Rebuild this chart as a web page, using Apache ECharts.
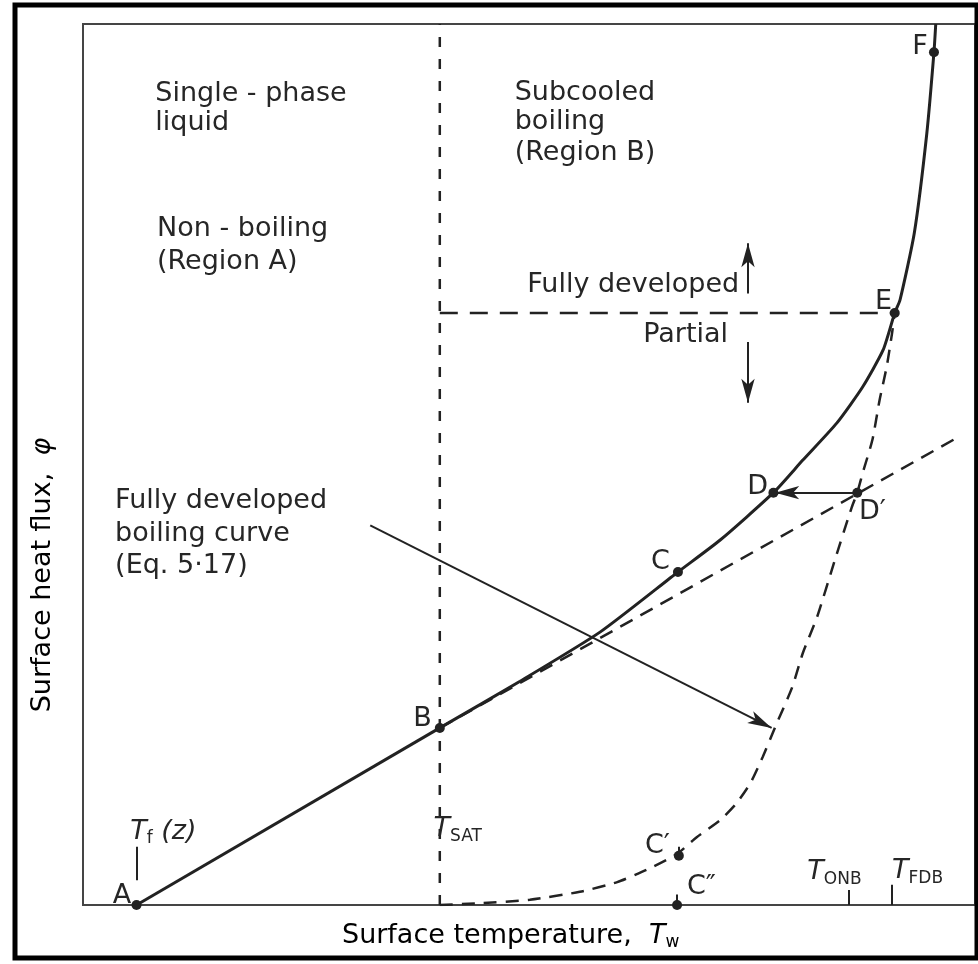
<!DOCTYPE html>
<html><head><meta charset="utf-8">
<script src="https://cdn.jsdelivr.net/npm/echarts@6/dist/echarts.min.js"></script>
<style>html,body{margin:0;padding:0;background:#fff}#c{width:978px;height:964px}</style>
</head><body><div id="c"></div>
<script>
// ---------- data (axis units: 0..100 on both axes) ----------
const singlePhaseLine = [[6,0],[40,20.1]];                       // A -> B
const subcooledCurve = [[40,20.1],[49,25.4],[58,31.0],[66.7,37.8],[71.4,41.4],[77.4,46.8],
  [80.7,50.5],[84.5,54.7],[87.4,58.8],[89.7,63.0],[91.0,67.2],[91.6,68.7],[93.2,76.3],
  [94.6,87.6],[95.4,96.8],[95.6,100]];                            // B -> C -> D -> E -> F
const singlePhaseExtension = [[40,20.1],[98.1,53.1]];             // dashed straight line
const fullyDevelopedCurve = [[40,0],[44.5,0.2],[50.1,0.6],[55.7,1.5],[59.9,2.6],[63.2,4.0],
  [66.6,5.8],[68.8,7.7],[71.4,9.6],[73.3,11.6],[74.8,13.8],[76.2,16.8],[77.6,20.2],[79.5,24.7],
  [80.7,28.6],[82.3,32.7],[84.3,39.2],[86.2,45.2],[86.8,46.8],[87.4,49.0],[88.5,52.8],
  [89.3,57.3],[90.1,61.1],[90.7,64.9],[91.0,67.2]];               // Eq. 5-17
const tSatLine = [[40,0],[40,100]];
const fdbBoundary = [[40,67.2],[91.0,67.2]];
const pointNames = ['A','B','C','D','E','F','C″','C′','D′'];
const pointValues = [[6,0],[40,20.1],[66.7,37.8],[77.4,46.8],[91.0,67.2],[95.4,96.8],[66.6,0],[66.8,5.6],[86.8,46.8]];
const tickMarks = [ [[6,2.8],[6,6.6]], [[85.9,0],[85.9,1.7]], [[90.7,0],[90.7,2.3]], [[66.6,0],[66.6,1.2]], [[66.8,5.6],[66.8,6.6]] ];
const arrowLines = [ [[32.2,43.1],[77.2,20.1]], [[86.8,46.8],[77.6,46.8]], [[74.55,69.4],[74.55,75.1]], [[74.55,63.9],[74.55,57.0]] ];

// ---------- styling ----------
const FONT = 'DejaVu Sans';
const TXT = '#262626';
const INK = '#222';
const FS = 27;
const nb = {textBorderWidth: 0, textBorderColor: 'transparent', textShadowBlur: 0};
const rich = {
  n:  Object.assign({fontFamily: FONT, fontSize: FS, color: TXT, lineHeight: 29, verticalAlign: 'top'}, nb),
  it: Object.assign({fontFamily: FONT, fontSize: FS, color: TXT, fontStyle: 'italic', lineHeight: 29, verticalAlign: 'top'}, nb),
  sub:Object.assign({fontFamily: FONT, fontSize: 17, color: TXT, lineHeight: 18, padding: [12,0,0,0], verticalAlign: 'top'}, nb),
  tn: Object.assign({fontFamily: FONT, fontSize: 27, color: TXT, lineHeight: 29, verticalAlign: 'top'}, nb),
  ti: Object.assign({fontFamily: FONT, fontSize: 27, color: TXT, fontStyle: 'italic', lineHeight: 29, verticalAlign: 'top'}, nb),
  ts: Object.assign({fontFamily: FONT, fontSize: 17, color: TXT, lineHeight: 18, padding: [12,0,0,0], verticalAlign: 'top'}, nb)
};

function ann(text, pos, align) {
  return {value: pos, label: {show: true, formatter: text, align: align || 'left'}};
}
const annotations = [
  ann('{n|Single - phase}', [8.1,91.9]),
  ann('{n|liquid}', [8.1,88.6]),
  ann('{n|Subcooled}', [48.4,92.1]),
  ann('{n|boiling}', [48.4,88.8]),
  ann('{n|(Region B)}', [48.4,85.2]),
  ann('{n|Non - boiling}', [8.3,76.6]),
  ann('{n|(Region A)}', [8.3,72.9]),
  ann('{n|Fully developed}', [49.8,70.3]),
  ann('{n|Partial}', [62.8,64.6]),
  ann('{n|Fully developed}', [3.6,45.7]),
  ann('{n|boiling curve}', [3.6,42.0]),
  ann('{n|(Eq. 5·17)}', [3.6,38.4]),
  ann('{n|' + pointNames[0] + '}', [5.4,0.9], 'right'),
  ann('{n|' + pointNames[1] + '}', [39.1,21.0], 'right'),
  ann('{n|' + pointNames[2] + '}', [65.8,38.8], 'right'),
  ann('{n|' + pointNames[3] + '}', [76.8,47.3], 'right'),
  ann('{n|' + pointNames[4] + '}', [90.7,68.3], 'right'),
  ann('{n|' + pointNames[5] + '}', [94.7,97.3], 'right'),
  ann('{n|' + pointNames[6] + '}', [67.7,1.9]),
  ann('{n|' + pointNames[7] + '}', [65.8,6.6], 'right'),
  ann('{n|' + pointNames[8] + '}', [87.0,44.5]),
  ann('{it|T}{sub|f}{it| (z)}', [5.3,8.2]),
  ann('{it|T}{sub|SAT}', [39.3,8.5]),
  ann('{it|T}{sub|ONB}', [81.2,3.6]),
  ann('{it|T}{sub|FDB}', [90.7,3.7])
];

const solid = (data, w, smooth) => ({type:'line', data, smooth: smooth||false, symbol:'none', silent:true,
  lineStyle:{color: INK, width: w}, z: 3});
const dashed = (data, dash, smooth) => ({type:'line', data, smooth: smooth||false, symbol:'none', silent:true,
  lineStyle:{color: INK, width: 2.5, type: dash}, z: 2});

const chart = echarts.init(document.getElementById('c'), null, {renderer:'canvas'});
chart.setOption({
  animation: false,
  backgroundColor: '#fff',
  grid: {left: 83, right: 3, top: 24, bottom: 59, show: true, borderColor: '#454545', borderWidth: 2, backgroundColor: 'transparent'},
  xAxis: {type:'value', min:0, max:100, axisLine:{show:false}, axisTick:{show:false}, axisLabel:{show:false}, splitLine:{show:false}},
  yAxis: {type:'value', min:0, max:100, axisLine:{show:false}, axisTick:{show:false}, axisLabel:{show:false}, splitLine:{show:false}},
  graphic: [
    {type:'rect', shape:{x:15, y:5, width:962, height:953}, style:{fill:'none', stroke:'#000', lineWidth:5}, z:100},
    {type:'text', x:342, y:937, style:{text:'{tn|Surface temperature,  }{ti|T}{ts|w}', rich: rich, verticalAlign:'middle', align:'left'}},
    {type:'text', x:44, y:575, rotation: Math.PI/2, style:{text:'{tn|Surface heat flux,  }{ti|φ}', rich: rich, verticalAlign:'middle', align:'center'}}
  ],
  series: [
    solid(singlePhaseLine, 3),
    solid(subcooledCurve, 3, 0.2),
    dashed(singlePhaseExtension, [14,9]),
    dashed(fullyDevelopedCurve, [13,9], 0.2),
    dashed(tSatLine, [10,12]),
    dashed(fdbBoundary, [18,12]),
    {type:'lines', coordinateSystem:'cartesian2d', silent:true, symbol:'none', z:3,
      lineStyle:{color: INK, width: 2, opacity: 1},
      data: tickMarks.map(c => ({coords: c}))},
    {type:'lines', coordinateSystem:'cartesian2d', silent:true, z:3,
      symbol:['none','arrow'], symbolSize:[1,[10,24]],
      lineStyle:{color: INK, width: 2, opacity: 1},
      data: arrowLines.map(c => ({coords: c}))},
    {type:'scatter', data: pointValues, symbol:'circle', symbolSize: 10, silent:true, z:4,
      itemStyle:{color: INK, opacity: 1}},
    {type:'scatter', data: annotations, symbolSize: 0, silent:true, z:5,
      itemStyle:{opacity: 1},
      label:{show:true, position:'inside', verticalAlign:'middle', rich: rich, color: TXT, opacity: 1, textBorderWidth: 0, textBorderColor: 'transparent'}}
  ]
});
</script>
</body></html>
